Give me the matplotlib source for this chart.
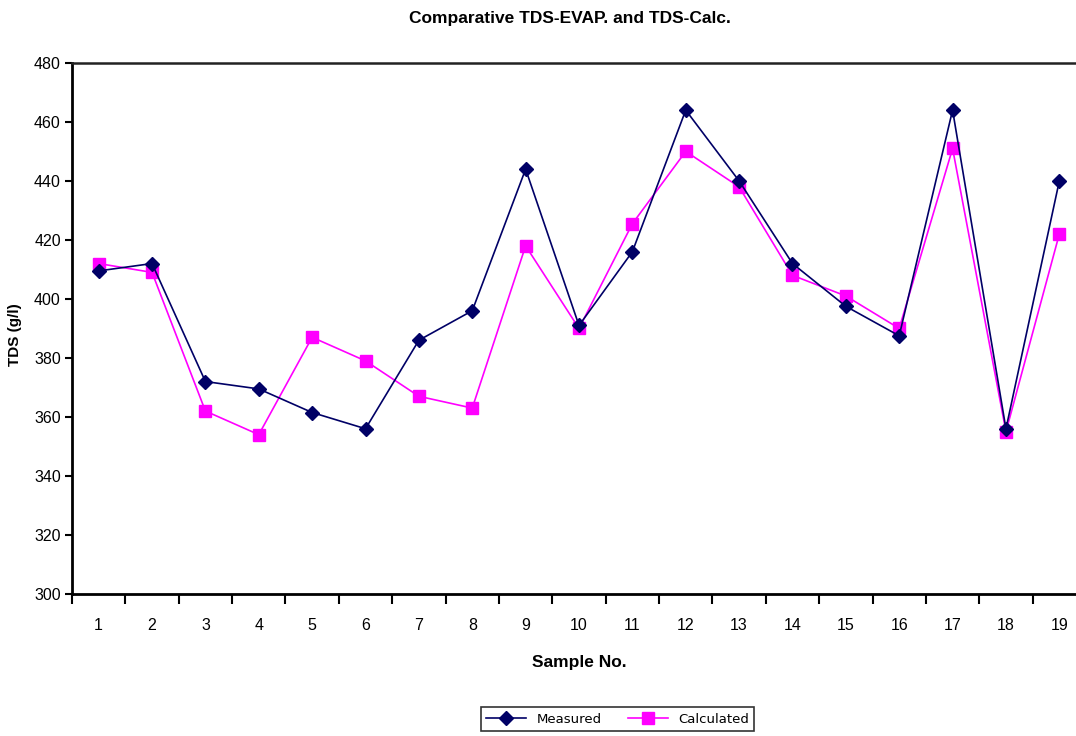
import matplotlib
matplotlib.use("Agg")
import matplotlib.pyplot as plt
import numpy as np

# sample numbers and TDS values (g/l)
samples = list(range(1, 20))
measured = [409.5, 412, 372, 369.5, 361.5, 356, 386, 396, 444, 391,
            416, 464, 440, 412, 397.5, 387.5, 464, 356, 440]
calculated = [412, 409, 362, 354, 387, 379, 367, 363, 418, 390,
              425.5, 450, 438, 408, 401, 390, 451, 355, 422]
yticks = list(range(300, 481, 20))

font = ['Liberation Sans', 'DejaVu Sans']
plt.rcParams['font.family'] = font

fig = plt.figure(figsize=(10.76, 7.36), dpi=100)
ax = fig.add_axes([0.0669, 0.193, 0.9424, 0.7215])

ax.plot(samples, measured, color='#000066', lw=1.2, marker='D', ms=7,
        label='Measured', zorder=3)
ax.plot(samples, calculated, color='#FF00FF', lw=1.2, marker='s', ms=8,
        label='Calculated', zorder=2)

ax.set_xlim(0.5, 19.5)
ax.set_ylim(300, 480)
ax.set_yticks(yticks)
ax.set_yticklabels([str(v) for v in yticks], fontsize=11.5)
ax.set_xticks(samples)
ax.set_xticklabels([str(s) for s in samples], fontsize=11.5)
ax.tick_params(axis='x', which='major', length=0, pad=17)
ax.set_xticks(np.arange(0.5, 19.6, 1), minor=True)
ax.tick_params(axis='x', which='minor', length=7, width=1.5, direction='out')
ax.tick_params(axis='y', length=5, width=1.5, direction='out', pad=3)

for s in ['left', 'bottom']:
    ax.spines[s].set_linewidth(2)
ax.spines['top'].set_linewidth(1.8)
ax.spines['top'].set_color('#222222')
ax.spines['right'].set_visible(False)

ax.set_xlabel('Sample No.', fontsize=12.5, fontweight='bold', labelpad=16)
ax.set_ylabel('TDS (g/l)', fontsize=11, fontweight='bold')
ax.yaxis.set_label_coords(-0.049, 0.488)
fig.text(0.530, 0.975, 'Comparative TDS-EVAP. and TDS-Calc.',
         fontsize=12.5, fontweight='bold', ha='center', va='center')

leg = fig.legend(loc='center', bbox_to_anchor=(0.574, 0.023), ncol=2,
                 frameon=True, fancybox=False, edgecolor='black',
                 prop={'family': 'DejaVu Sans', 'size': 9.5},
                 handlelength=3, columnspacing=2.0, borderpad=0.4)
leg.get_frame().set_linewidth(1.2)

fig.savefig('out.png', dpi=100)
